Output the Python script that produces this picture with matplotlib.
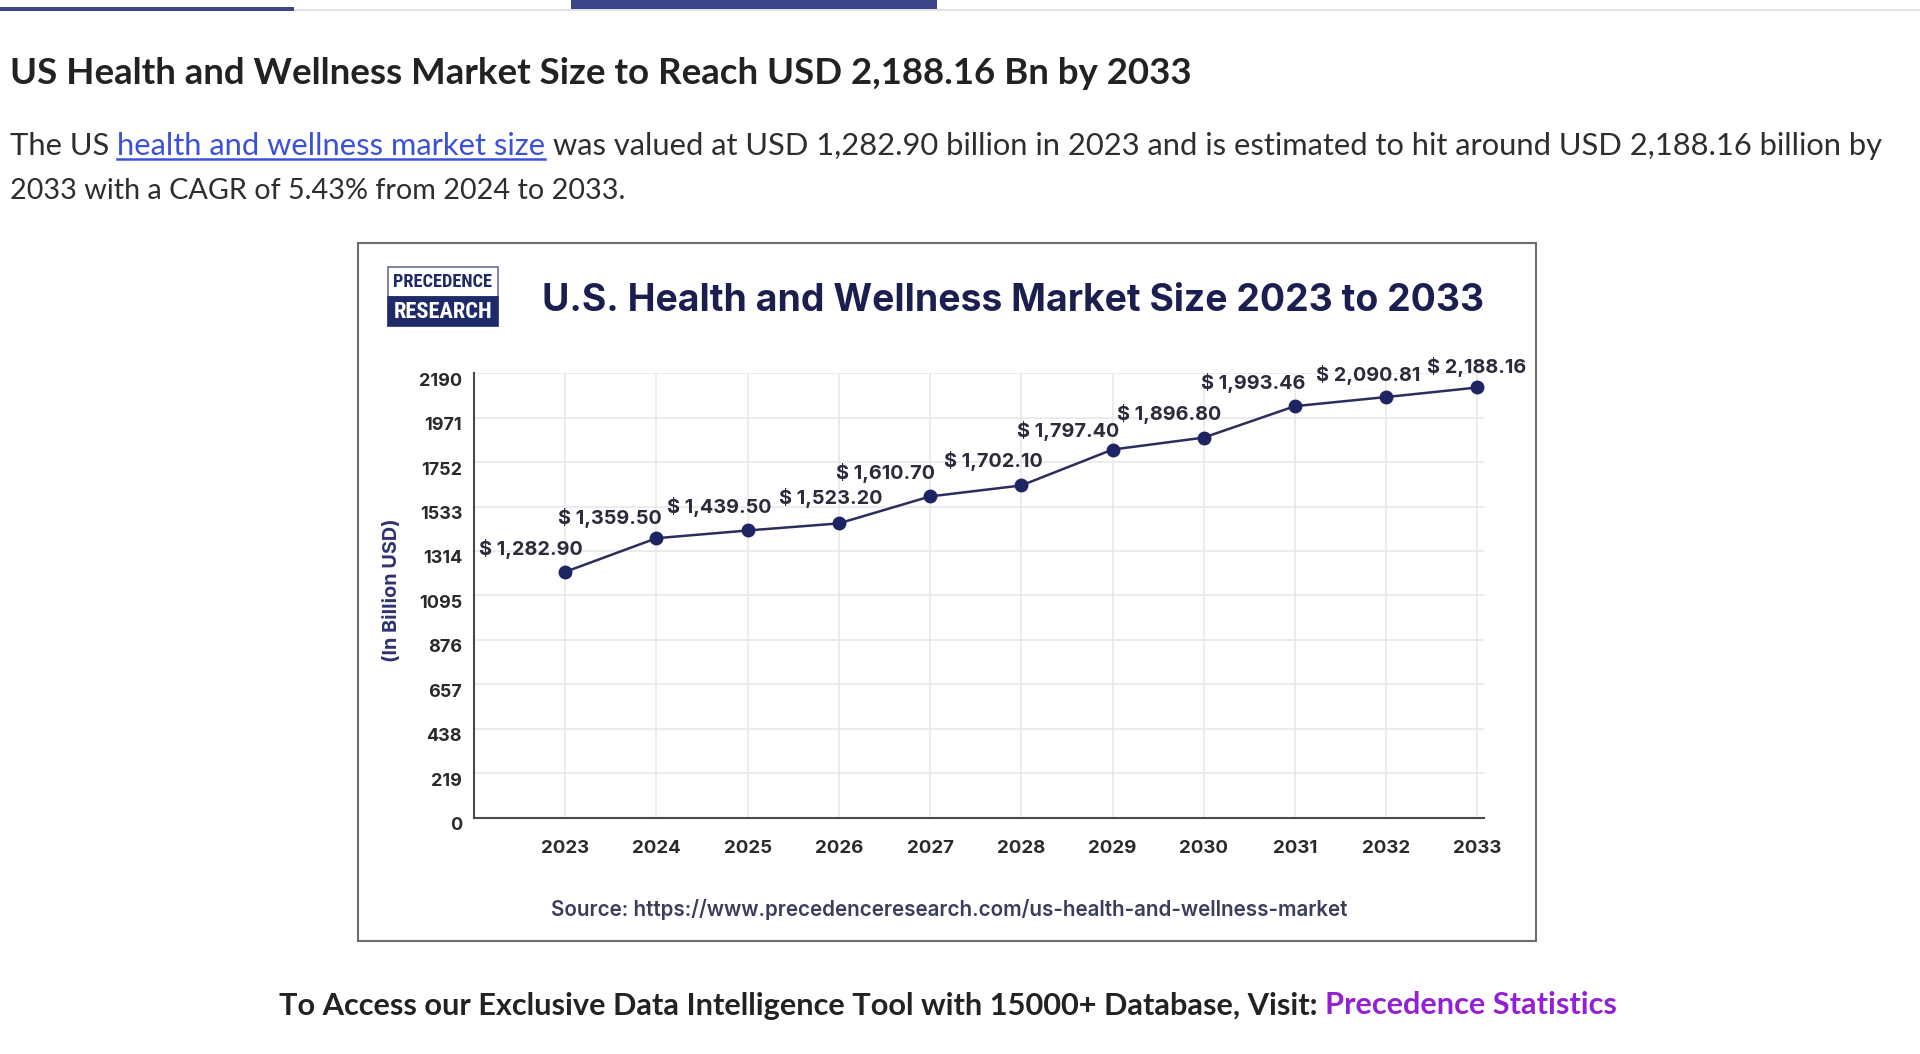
import matplotlib
matplotlib.use("Agg")
import matplotlib.pyplot as plt
from matplotlib.patches import Rectangle
from matplotlib.lines import Line2D
from matplotlib.transforms import ScaledTranslation
from matplotlib import font_manager

# ---------------- data ----------------
years = [2023, 2024, 2025, 2026, 2027, 2028, 2029, 2030, 2031, 2032, 2033]
# point heights as drawn in the picture
market_points = [1211, 1377, 1415, 1450, 1583, 1637, 1814, 1873, 2028, 2073, 2120]
# value labels printed beside the points
value_labels = ["$ 1,282.90", "$ 1,359.50", "$ 1,439.50", "$ 1,523.20", "$ 1,610.70",
                "$ 1,702.10", "$ 1,797.40", "$ 1,896.80", "$ 1,993.46", "$ 2,090.81",
                "$ 2,188.16"]
y_ticks = [0, 219, 438, 657, 876, 1095, 1314, 1533, 1752, 1971, 2190]
x_tick_labels = [str(y) for y in years]

# label offsets (pixels) relative to points - layout only
label_dx = [-34, -47, -28, -8, -45, -28, -44, -35, -42, -18, -1]
label_dy = [23, 20, 23, 25, 23, 24, 19, 24, 23, 22, 20]

page_heading = "US Health and Wellness Market Size to Reach USD 2,188.16 Bn by 2033"
body_pre = "The US"
body_link = "health and wellness market size"
body_post = "was valued at USD 1,282.90 billion in 2023 and is estimated to hit around USD 2,188.16 billion by"
body_line2 = "2033 with a CAGR of 5.43% from 2024 to 2033."
chart_title = "U.S. Health and Wellness Market Size 2023 to 2033"
y_axis_label = "(In Billion USD)"
source_text = "Source: https://www.precedenceresearch.com/us-health-and-wellness-market"
footer_pre = "To Access our Exclusive Data Intelligence Tool with 15000+ Database, Visit:"
footer_link = "Precedence Statistics"

# ---------------- helpers ----------------
W, H = 1920, 1054
fig = plt.figure(figsize=(W / 100, H / 100), dpi=100)
fig.patch.set_facecolor("white")
renderer = fig.canvas.get_renderer()

available = {f.name for f in font_manager.fontManager.ttflist}
def pick(*names):
    for n in names:
        if n in available:
            return n
    return "DejaVu Sans"

PAGE_FONT = pick("Lato", "Open Sans", "Noto Sans")
CHART_FONT = pick("Inter", "Roboto", "Noto Sans")
COND_FONT = pick("Roboto Condensed", "Liberation Sans Narrow", "DejaVu Sans Condensed", "Roboto")


def fx(x):
    return x / W


def fy(y):
    return 1 - y / H


def width_of(t):
    return t.get_window_extent(renderer).width


def fit(t, target_w):
    w = width_of(t)
    t.set_fontsize(t.get_fontsize() * target_w / w)
    return t


def rect(x0, y0, x1, y1, **kw):
    r = Rectangle((fx(x0), fy(y1)), (x1 - x0) / W, (y1 - y0) / H,
                  transform=fig.transFigure, **kw)
    fig.add_artist(r)
    return r


def segments(x_left, y_center, parts, total_w, family, weight, underline_idx=None):
    """parts: list of (text, color). Placed left to right separated by spaces."""
    full = " ".join(p[0] for p in parts)
    probe = fig.text(0, 0, full, family=family, weight=weight, fontsize=16)
    fit(probe, total_w)
    fs = probe.get_fontsize()
    probe.remove()
    p1 = fig.text(0, 0, "a a", family=family, weight=weight, fontsize=fs)
    p2 = fig.text(0, 0, "aa", family=family, weight=weight, fontsize=fs)
    space = width_of(p1) - width_of(p2)
    p1.remove(); p2.remove()
    x = x_left
    for i, (s, c) in enumerate(parts):
        t = fig.text(fx(x), fy(y_center), s, family=family, weight=weight,
                     fontsize=fs, color=c, ha="left", va="center_baseline")
        w = width_of(t)
        if underline_idx is not None and i == underline_idx:
            yl = y_center + fs * 0.68
            fig.add_artist(Line2D([fx(x), fx(x + w)], [fy(yl), fy(yl)],
                                  transform=fig.transFigure, color=c, lw=1.8))
        x += w + space
    return fs


# ---------------- page decorations ----------------
rect(294, 9, W, 10.5, facecolor="#e2e2e2", edgecolor="none")
rect(0, 6.5, 294, 10.5, facecolor="#3d4589", edgecolor="none")
rect(571, 0, 937, 9, facecolor="#3d4589", edgecolor="none")

t = fig.text(fx(10), fy(71), page_heading, family=PAGE_FONT, weight="bold",
             fontsize=20, color="#222222", ha="left", va="center_baseline")
fit(t, 1181)

TEXT_C = "#2e2e2e"
LINK_C = "#3b52d6"
segments(10, 143.5, [(body_pre, TEXT_C), (body_link, LINK_C), (body_post, TEXT_C)],
         1879, PAGE_FONT, "normal", underline_idx=1)
t = fig.text(fx(10), fy(188.5), body_line2, family=PAGE_FONT, weight="normal",
             fontsize=20, color=TEXT_C, ha="left", va="center_baseline")
fit(t, 612)

segments(279, 1003, [(footer_pre, "#222222"), (footer_link, "#9420d6")],
         1342, PAGE_FONT, "bold")

# ---------------- chart box ----------------
rect(358, 243, 1536, 941, facecolor="none", edgecolor="#6e6e6e", lw=1.5)

# logo
rect(388, 267, 498, 297, facecolor="white", edgecolor="#6b6f8e", lw=1.2)
rect(388, 297, 498, 326, facecolor="#1f2a68", edgecolor="#1f2a68", lw=1.2)
t = fig.text(fx(443), fy(282), "PRECEDENCE", family=COND_FONT, weight="bold",
             fontsize=14, color="#1f2a68", ha="center", va="center")
fit(t, 100)
t = fig.text(fx(443), fy(311.5), "RESEARCH", family=COND_FONT, weight="bold",
             fontsize=14, color="white", ha="center", va="center")
fit(t, 99)

NAVY = "#1b1f4f"
t = fig.text(fx(542), fy(301), chart_title, family=CHART_FONT, weight="bold",
             fontsize=26, color=NAVY, ha="left", va="center")
fit(t, 940)

# ---------------- axes ----------------
ax_left, ax_right, ax_top, ax_bottom = 474, 1484, 373.3, 817.5
ax = fig.add_axes([fx(ax_left), fy(ax_bottom), (ax_right - ax_left) / W,
                   (ax_bottom - ax_top) / H])
ax.set_facecolor("white")
x_px_per_year = (1477.4 - 565) / 10
ax.set_xlim(2022, 2033 + (ax_right - 1477.4) / x_px_per_year)
ax.set_ylim(0, 2190)
ax.set_xticks(years)
ax.set_xticklabels(x_tick_labels)
ax.set_yticks(y_ticks)
ax.set_yticklabels([str(v) for v in y_ticks])
ax.grid(True, color="#e7e7e9", lw=1.1)
ax.set_axisbelow(True)
for s in ("top", "right"):
    ax.spines[s].set_visible(False)
for s in ("left", "bottom"):
    ax.spines[s].set_color("#4a4a4a")
    ax.spines[s].set_linewidth(1.5)
ax.tick_params(axis="both", length=0)
ax.tick_params(axis="x", pad=16, labelsize=13.5, labelcolor="#2a2a2a")
ax.tick_params(axis="y", pad=8.5, labelsize=13, labelcolor="#2a2a2a")
for lab in ax.get_xticklabels() + ax.get_yticklabels():
    lab.set_fontfamily(CHART_FONT)
    lab.set_fontweight("bold")
shift = ScaledTranslation(0, -6 / 100, fig.dpi_scale_trans)
for lab in ax.get_yticklabels():
    lab.set_transform(lab.get_transform() + shift)

ax.plot(years, market_points, color="#2b2d5c", lw=1.8, marker="o", ms=9,
        mfc="#1d2463", mec="#1d2463", zorder=3, clip_on=False)

for yr, v, lab, dx, dy in zip(years, market_points, value_labels, label_dx, label_dy):
    ax.annotate(lab, (yr, v), xytext=(dx, dy), textcoords="offset pixels",
                ha="center", va="center", fontsize=14.3, fontweight="bold",
                family=CHART_FONT, color="#2b2b3b", annotation_clip=False)

yl = fig.text(fx(392), fy(590), y_axis_label, family=CHART_FONT, weight="bold",
              fontsize=12, color="#2e3270", rotation=90, ha="center", va="center")
bb = yl.get_window_extent(renderer)
yl.set_fontsize(yl.get_fontsize() * 143 / bb.height)

t = fig.text(fx(551), fy(909), source_text, family=CHART_FONT, weight="semibold",
             fontsize=14, color="#3a3d5c", ha="left", va="center")
fit(t, 799)

fig.savefig("out.png", dpi=100, facecolor="white")
